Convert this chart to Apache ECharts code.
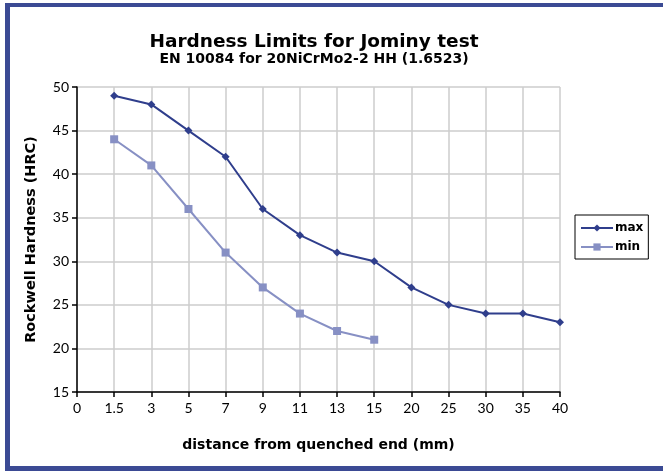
<!DOCTYPE html>
<html>
<head>
<meta charset="utf-8">
<script src="https://cdn.jsdelivr.net/npm/echarts@6/dist/echarts.min.js"></script>
<style>
  html, body { margin: 0; padding: 0; background: #fff; }
  #wrap { position: relative; width: 663px; height: 471px; background: #fff; }
  #frameTop { position: absolute; left: 5px; top: 3px; width: 658px; height: 4px; background: #3b4a94; }
  #frameLeft { position: absolute; left: 5px; top: 3px; width: 5px; height: 468px; background: #3b4a94; }
  #frameBottom { position: absolute; left: 5px; top: 466px; width: 658px; height: 5px; background: #3b4a94; }
  #chart { position: absolute; left: 0; top: 0; width: 663px; height: 471px; }
</style>
</head>
<body>
<div id="wrap">
  <div id="chart"></div>
  <div id="frameTop"></div>
  <div id="frameLeft"></div>
  <div id="frameBottom"></div>
</div>
<script>
// Distance from the quenched end (mm), used as evenly spaced categories
const distances = ['0', '1.5', '3', '5', '7', '9', '11', '13', '15', '20', '25', '30', '35', '40'];
// Upper hardness limit (HRC)
const maxHardness = [null, 49, 48, 45, 42, 36, 33, 31, 30, 27, 25, 24, 24, 23];
// Lower hardness limit (HRC)
const minHardness = [null, 44, 41, 36, 31, 27, 24, 22, 21, null, null, null, null, null];

const labelFont = 'Lato, "DejaVu Sans", sans-serif';
const heavyFont = '"DejaVu Sans", sans-serif';
const chart = echarts.init(document.getElementById('chart'), null, { renderer: 'canvas' });

chart.setOption({
  animation: false,
  backgroundColor: '#fff',
  title: {
    text: 'Hardness Limits for Jominy test',
    subtext: 'EN 10084 for 20NiCrMo2-2 HH (1.6523)',
    left: 309,
    textAlign: 'center',
    top: 28,
    itemGap: 0,
    textStyle: { fontFamily: heavyFont, fontWeight: 'bold', fontSize: 18.5, color: '#000' },
    subtextStyle: { fontFamily: heavyFont, fontWeight: 'bold', fontSize: 14, color: '#000' }
  },
  legend: {
    orient: 'vertical',
    left: 575,
    top: 215,
    padding: [7, 5, 6, 5],
    itemGap: 7,
    itemWidth: 32,
    itemHeight: 9,
    borderColor: '#000',
    borderWidth: 1,
    textStyle: { fontFamily: heavyFont, fontWeight: 'bold', fontSize: 12, color: '#000', padding: [0, 0, 0, -3] },
    data: ['max', 'min']
  },
  grid: { left: 77, right: 103, top: 87, bottom: 79, containLabel: false },
  xAxis: {
    type: 'category',
    data: distances,
    boundaryGap: false,
    name: 'distance from quenched end (mm)',
    nameLocation: 'middle',
    nameGap: 46,
    nameTextStyle: { fontFamily: heavyFont, fontWeight: 'bold', fontSize: 14, color: '#000' },
    axisLine: { show: true, lineStyle: { color: '#000', width: 1.5 } },
    axisTick: { show: true, alignWithLabel: true, length: 5, inside: false, lineStyle: { color: '#000', width: 1.5 } },
    axisLabel: { fontFamily: labelFont, fontSize: 14, color: '#000', margin: 9, interval: 0 },
    splitLine: { show: true, lineStyle: { color: '#cccccc', width: 1.5 } }
  },
  yAxis: {
    type: 'value',
    min: 15,
    max: 50,
    interval: 5,
    name: 'Rockwell Hardness (HRC)',
    nameLocation: 'middle',
    nameRotate: 90,
    nameGap: 38,
    nameTextStyle: { fontFamily: heavyFont, fontWeight: 'bold', fontSize: 14.5, color: '#000' },
    axisLine: { show: true, lineStyle: { color: '#000', width: 1.5 } },
    axisTick: { show: true, length: 5, lineStyle: { color: '#000', width: 1.5 } },
    axisLabel: { fontFamily: labelFont, fontSize: 14, color: '#000', margin: 8 },
    splitLine: { show: true, lineStyle: { color: '#cccccc', width: 1.5 } }
  },
  series: [
    {
      name: 'max',
      type: 'line',
      data: maxHardness,
      symbol: 'diamond',
      symbolSize: 8,
      showAllSymbol: true,
      itemStyle: { color: '#2f3e8c' },
      lineStyle: { color: '#2f3e8c', width: 2 }
    },
    {
      name: 'min',
      type: 'line',
      data: minHardness,
      symbol: 'rect',
      symbolSize: 8,
      showAllSymbol: true,
      itemStyle: { color: '#8790c4' },
      lineStyle: { color: '#8790c4', width: 2 }
    }
  ]
});
</script>
</body>
</html>
